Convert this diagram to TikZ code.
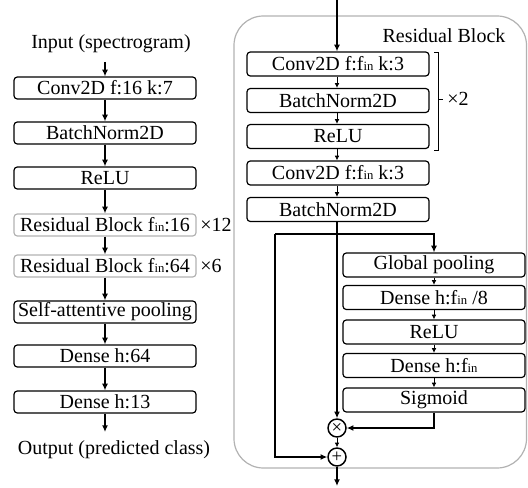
\documentclass[tikz,border=0pt]{standalone}
\usepackage{fontspec}
\setmainfont{Liberation Serif}
\usetikzlibrary{arrows.meta}
\newcommand\finx{f{\fontsize{9.5}{9.5}\selectfont in}}
\begin{document}
\begin{tikzpicture}[x=0.75pt,y=-0.75pt,font=\fontsize{15}{17}\selectfont,
  box/.style={draw, rounded corners=2.5pt, line width=0.9pt, minimum width=136.5pt, minimum height=16.5pt, inner sep=0pt},
  gbox/.style={box, draw=gray!60},
  rbox/.style={box, minimum height=18pt},
  arr/.style={-{Latex[length=5pt,width=4.5pt]}, line width=1.3pt},
  tarr/.style={-{Latex[length=3.5pt,width=3.5pt]}, line width=0.6pt},
  op/.style={circle, draw, line width=1.1pt, minimum size=13.5pt, inner sep=0pt, font=\fontsize{14}{14}\selectfont}]
\useasboundingbox (0,0) rectangle (528,488);
% left column
\node (in) at (111,44) {Input (spectrogram)};
\coordinate (inarr) at (105,62);
\node[box] (c1) at (105,88) {Conv2D f:16 k:7};
\node[box] (b1) at (105,133) {BatchNorm2D};
\node[box] (r1) at (105,178) {ReLU};
\node[gbox] (rb1) at (105,225) {Residual Block \finx:16};
\node[gbox] (rb2) at (105,266) {Residual Block \finx:64};
\node[box] (sa) at (105,312) {Self-attentive pooling};
\node[box] (d1) at (105,356) {Dense h:64};
\node[box] (d2) at (105,402) {Dense h:13};
\coordinate (outarr) at (105,432);
\node (out) at (114,450) {Output (predicted class)};
\node (x12) at (216,225) {×12};
\node (x6) at (211,266) {×6};
\draw[arr] (inarr) -- (c1);
\draw[arr] (c1) -- (b1);
\draw[arr] (b1) -- (r1);
\draw[arr] (r1) -- (rb1);
\draw[arr] (rb1) -- (rb2);
\draw[arr] (rb2) -- (sa);
\draw[arr] (sa) -- (d1);
\draw[arr] (d1) -- (d2);
\draw[arr] (d2) -- (outarr);
% right block
\draw[gray!60, line width=0.9pt, rounded corners=22pt] (234,16) rectangle (526.5,468);
\node (rbt) at (444,36) {Residual Block};
\coordinate (top) at (337,0);
\node[rbox] (rc1) at (338,64) {Conv2D f:\finx{} k:3};
\node[rbox] (rn1) at (338,100.5) {BatchNorm2D};
\node[rbox] (rr1) at (338,136.5) {ReLU};
\node[rbox] (rc2) at (338,173) {Conv2D f:\finx{} k:3};
\node[rbox] (rn2) at (338,209.5) {BatchNorm2D};
\draw[arr] (top) -- (rc1.north -| top);
\draw[tarr] (rc1.south -| top) -- (rn1.north -| top);
\draw[tarr] (rn1.south -| top) -- (rr1.north -| top);
\draw[tarr] (rr1.south -| top) -- (rc2.north -| top);
\draw[tarr] (rc2.south -| top) -- (rn2.north -| top);
\draw[line width=0.6pt] (434,52) -- (438,52) -- (438,150) -- (434,150);
\draw[line width=0.6pt] (438,99) -- (443,99);
\node (x2) at (458,99) {×2};
% SE part
\node[rbox] (gp) at (434,265) {Global pooling};
\node[rbox] (dn1) at (434,297.5) {Dense h:\finx{} /8};
\node[rbox] (rl2) at (434,332) {ReLU};
\node[rbox] (dn2) at (434,365.5) {Dense h:\finx};
\node[rbox] (sg) at (434,400) {Sigmoid};
\node[op] (mul) at (337,428) {×};
\node[op] (add) at (337,457) {+};
\coordinate (bl) at (275,234);
\coordinate (brr) at (434,234);
\coordinate (endc) at (337,486);
\draw[arr] (rn2.south -| top) -- (mul.north);
\draw[arr] (bl) -- (brr) -- (gp.north);
\draw[arr] (bl) |- (add.west);
\draw[tarr] (gp) -- (dn1);
\draw[tarr] (dn1) -- (rl2);
\draw[tarr] (rl2) -- (dn2);
\draw[tarr] (dn2) -- (sg);
\draw[arr] (sg.south) |- (mul.east);
\draw[tarr] (mul) -- (add);
\draw[arr] (add) -- (endc);
\end{tikzpicture}
\end{document}
